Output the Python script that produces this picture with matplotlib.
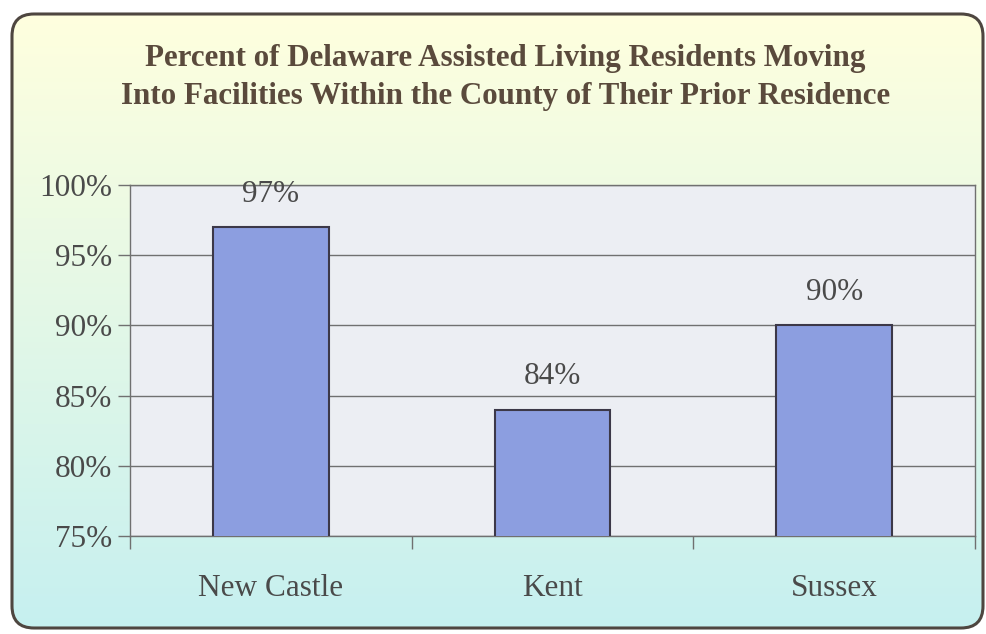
import numpy as np
import matplotlib.pyplot as plt
from matplotlib.patches import FancyBboxPatch

# data
counties = ["New Castle", "Kent", "Sussex"]
percent = [97, 84, 90]
y_ticks = [75, 80, 85, 90, 95, 100]

title = ("Percent of Delaware Assisted Living Residents Moving\n"
         "Into Facilities Within the County of Their Prior Residence")

plt.rcParams['font.family'] = ['Liberation Serif', 'DejaVu Serif']
text_col = "#4a4a4a"

fig = plt.figure(figsize=(9.87, 6.34), dpi=100)
fig.patch.set_facecolor("white")

# background panel with yellow -> cyan gradient and rounded border
bg = fig.add_axes([0, 0, 1, 1])
bg.set_xlim(0, 987)
bg.set_ylim(634, 0)
bg.axis("off")
top_c = np.array([255, 255, 222]) / 255
bot_c = np.array([198, 240, 240]) / 255
t = np.linspace(0, 1, 256)[:, None]
grad = (top_c * (1 - t) + bot_c * t)[:, None, :]
img = bg.imshow(grad, extent=[10, 985, 630, 12], aspect="auto", zorder=0)
box = FancyBboxPatch((12, 14), 971, 614, boxstyle="round,pad=0,rounding_size=22",
                     fc="none", ec="#4e4640", lw=2.2, zorder=2)
bg.add_patch(box)
img.set_clip_path(box)

fig.text(0.512, 0.878, title, ha="center", va="center", fontsize=22.3,
         fontweight="bold", color="#5a4a3c", linespacing=1.42)

ax = fig.add_axes([130 / 987, 1 - 536 / 634, 845 / 987, 351 / 634])
ax.set_facecolor("#eceef3")
x = np.arange(len(counties))
bars = ax.bar(x, percent, width=0.41, color="#8c9ee0", edgecolor="#3c3848",
              linewidth=1.5, zorder=3)
for xi, v in zip(x, percent):
    ax.text(xi, v + 1.3, f"{v}%", ha="center", va="bottom", fontsize=22.5,
            color=text_col, zorder=4)

ax.set_xlim(-0.5, 2.5)
ax.set_ylim(75, 100)
ax.set_yticks(y_ticks)
ax.set_yticklabels([f"{v}%" for v in y_ticks])
ax.yaxis.grid(True, color="#707070", linewidth=1.0, zorder=1)
ax.set_axisbelow(True)

# category ticks between groups
ax.set_xticks([-0.5, 0.5, 1.5, 2.5])
ax.set_xticklabels([])
ax.set_xticks(x, minor=True)
ax.set_xticklabels(counties, minor=True)
ax.tick_params(axis="x", which="major", length=9, color="#707070", width=1)
ax.tick_params(axis="x", which="minor", length=0, pad=27, labelsize=22.5,
               labelcolor=text_col)
ax.tick_params(axis="y", length=9, color="#707070", width=1, labelsize=22.5,
               labelcolor=text_col, pad=4)
for s in ax.spines.values():
    s.set_color("#707070")
    s.set_linewidth(1.0)

fig.savefig("out.png", dpi=100, facecolor="white")
